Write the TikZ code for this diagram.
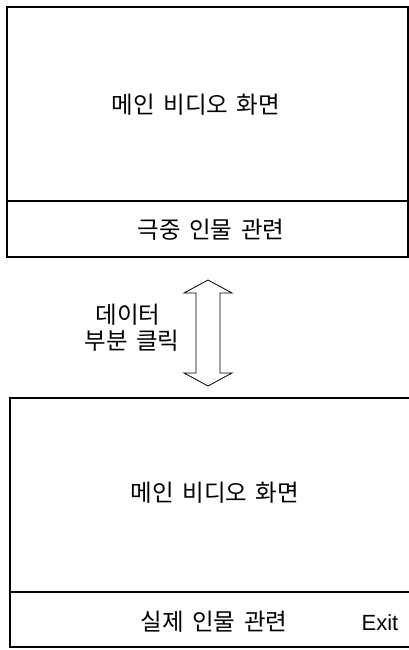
\documentclass[tikz,border=0pt]{standalone}
\usepackage{fontspec}
\setmainfont{Liberation Sans}
\newfontfamily\kr[WordSpace=1.6]{Noto Sans CJK KR}
\begin{document}
\begin{tikzpicture}[x=1pt,y=-1pt,
  boxline/.style={line width=1.6pt,draw=black},
  lbl/.style={font=\kr\fontsize{23.5}{27}\selectfont,inner sep=0pt},
  exitlbl/.style={font=\fontsize{22}{26}\selectfont,inner sep=0pt},
  arrowline/.style={line width=0.8pt,draw=black,line join=miter}]
\useasboundingbox (0,0) rectangle (409,650);
% top screen
\draw[boxline] (7,7) rectangle (408,257);
\draw[boxline] (7,201) -- (408,201);
\node[lbl] (main1) at (196,105) {메인 비디오 화면};
\node[lbl] (drama) at (211,230) {극중 인물 관련};
% arrow
\coordinate (tt) at (208,280);
\coordinate (bt) at (208,386);
\draw[arrowline] (tt) -- (232,293) -- (220,293) -- (220,373) -- (232,373) -- (bt)
  -- (184,373) -- (196,373) -- (196,293) -- (184,293) -- cycle;
\node[lbl] (data) at (128,315) {데이터};
\node[lbl] (click) at (132,341) {부분 클릭};
% bottom screen
\draw[boxline] (10,398) rectangle (410,647);
\draw[boxline] (10,592) -- (410,592);
\node[lbl] (main2) at (215,493) {메인 비디오 화면};
\node[lbl] (real) at (214,622) {실제 인물 관련};
\node[exitlbl] (exit) at (380,623) {Exit};
\end{tikzpicture}
\end{document}
